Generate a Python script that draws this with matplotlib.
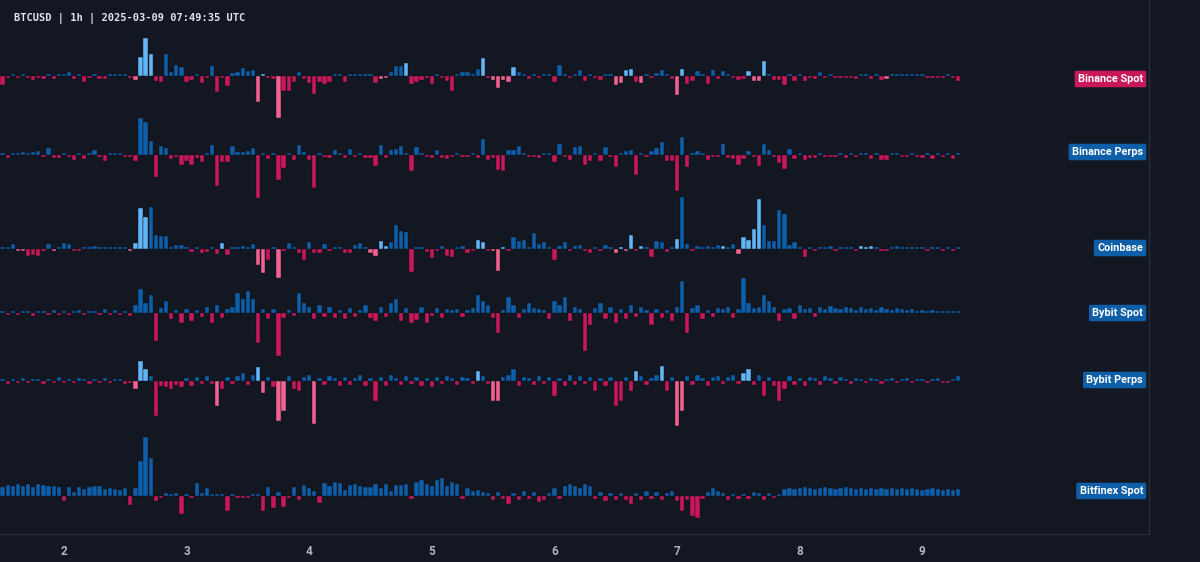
import matplotlib
matplotlib.use("Agg")
import matplotlib.pyplot as plt
import numpy as np

# hourly delta bars, Mar 1 12:00 -> Mar 9 07:00
binance_spot = [
    -9, -1, 2, -2, 1, -2, -4, -1, -3, 2,
    -3, 1, 2, 4, -3, 1, -6, -1, 2, -3,
    -3, 2, 2, 2, 1, -1, -4, 19, 38, 22,
    -5, -6, 22, 4, 11, 9, -6, -4, 2, -7,
    -1, 10, -16, -1, -10, 3, 4, 8, 5, 6,
    -26, 1, -1, -3, -42, -15, -15, -6, 4, -3,
    -7, -18, -6, -8, -6, 2, 1, -6, 2, 1,
    1, 1, 1, -7, -3, -2, 4, 10, 10, 13,
    -8, -6, -4, -1, -8, 1, -1, -5, -15, 1,
    4, 4, 1, 7, 18, -1, -4, -12, -4, -6,
    9, 4, 2, -3, 2, -1, 1, 2, -6, 11,
    1, -1, 1, 6, -5, 2, -1, -4, 2, 2,
    -9, -7, 6, 7, -6, -7, 1, -1, 3, 6,
    2, -3, -19, 7, -8, -5, 5, 1, -8, 6,
    -3, 5, 1, -1, -4, -3, 5, -5, -5, 15,
    2, -4, -4, -9, 1, -5, 1, -5, -1, -3,
    4, -1, 2, -1, -2, -2, -1, -3, 1, 2,
    -3, 2, -4, -3, 1, 1, 1, 1, 1, 1,
    2, -1, -1, -1, -1, 1, -2, -5,
]
binance_perps = [
    1, -3, 1, 1, 3, 2, 3, 4, -1, 7,
    -3, -3, 2, -1, -5, 2, -4, 1, 5, -1,
    -6, 1, 1, 2, -2, -1, -6, 37, 33, 14,
    -22, 9, 7, -4, -1, -10, -6, -10, -3, -7,
    1, 10, -31, -7, -7, 9, 3, 3, 4, 7,
    -43, 1, -4, 1, -25, -13, 1, -5, 10, 3,
    -5, -33, 1, -2, -3, 5, 1, -3, 6, -2,
    1, -3, -3, -11, 10, -3, 5, 6, 9, 2,
    -16, 8, 1, -2, -3, 5, -3, -4, -1, 1,
    -2, -1, 1, -3, 16, -5, -3, -15, -16, 5,
    5, 9, 1, -1, -2, -3, 1, 2, -7, 11,
    -1, -5, 8, 9, -10, -6, 1, -6, 8, -2,
    -12, 2, 4, 5, -20, 1, -2, 4, 7, 13,
    -6, -6, -36, 18, -12, 1, 4, 2, -5, -2,
    -2, 11, -3, -4, -10, -4, 4, -2, -11, 11,
    5, -1, -8, -14, 6, -4, 1, -5, -3, -3,
    2, -1, -1, -2, 1, -3, 1, -1, 1, 2,
    -4, 1, -5, -5, 1, 1, -1, -2, 1, -1,
    -3, 1, -4, 1, -1, 1, -4, 2,
]
coinbase = [
    2, 2, 5, -2, -1, -7, -6, -7, -2, 5,
    -2, 2, 6, 5, -1, -1, 1, 1, 3, 2,
    1, 2, 2, 1, 1, -1, 6, 41, 32, 42,
    14, 13, 13, 1, 4, 4, 1, -3, 2, -4,
    -3, 2, -5, 6, -6, 1, 1, 3, 1, 5,
    -16, -24, -11, 2, -29, -2, 6, 1, -4, -11,
    7, -4, -4, 5, -1, 2, 2, -4, -4, 4,
    6, 2, -4, -7, 8, 3, 7, 24, 18, 17,
    -23, 1, 1, -3, -9, -2, 3, -7, -8, 1,
    3, -4, -1, 9, 7, -2, -1, -22, 2, -2,
    12, 8, 9, 2, 16, 5, 7, 1, -11, 3,
    7, -1, 3, 4, -1, -4, 2, -1, 4, 1,
    -4, 2, -1, 14, -1, 3, 1, -8, 8, 7,
    -3, 2, 10, 52, 5, -1, 3, 1, 3, 1,
    4, 3, 1, 5, -5, 12, 9, 20, 50, 24,
    8, 8, 39, 35, 4, 7, 1, -8, 2, -1,
    2, 2, 3, -1, 2, 2, 2, -1, 3, 2,
    3, 1, -1, -1, 1, 3, 2, 2, 1, 1,
    1, -1, 1, 2, -1, 1, -1, 1,
]
bybit_spot = [
    1, -2, 2, -1, 2, 1, -3, 2, 1, -2,
    3, -1, 2, -2, 1, 3, -2, 1, 2, -1,
    4, -2, 3, -1, 2, -3, 8, 24, 10, 18,
    -28, 5, 12, -6, 3, -10, 4, -8, 3, -4,
    6, -10, 8, -5, 4, 6, 20, 14, 22, 14,
    -30, 4, -6, 4, -43, -5, 3, -3, 20, 10,
    6, -6, 8, -4, 6, -5, 3, -6, 5, -4,
    3, 8, -5, -8, 6, -4, 10, 14, -8, 5,
    -10, -7, 6, -10, -3, 5, -5, 4, 3, 4,
    -4, 3, 5, 18, 12, 8, -5, -20, 3, 16,
    8, -5, 4, 10, 5, 4, 3, -6, 12, 8,
    16, -8, 6, 4, -38, -12, 5, 10, -6, 6,
    -10, 4, -6, 8, -4, 6, 3, -12, 4, -5,
    3, -8, 6, 32, -20, 5, 8, -6, 3, -4,
    5, 4, 6, -5, 4, 35, 10, 5, 6, 18,
    12, 6, -8, 4, 5, -6, 8, 4, 5, -4,
    6, 4, 7, 5, 4, 6, 5, 3, 6, 4,
    5, 3, 6, 4, 3, 5, 4, 3, 4, 2,
    3, 2, 3, 2, 2, 1, 2, 1,
]
bybit_perps = [
    2, -3, 1, -2, 3, -1, 2, 1, -3, 2,
    -2, 4, -1, 2, -2, 3, 1, -3, 2, -1,
    3, -2, 1, 2, -3, -2, -8, 20, 12, 5,
    -35, -5, -6, -8, -4, -6, 3, -5, 4, -3,
    5, -3, -25, -8, 4, -3, 5, 8, -4, 6,
    14, -12, 4, -6, -40, -30, 5, -8, -10, 4,
    6, -43, 3, -4, 5, 3, -5, 4, -4, 3,
    6, -5, 3, -20, 4, -5, 6, 3, -4, 5,
    -3, 4, -5, 3, -6, 4, -3, 5, 3, -4,
    4, 3, -3, 10, 5, -3, -20, -20, 4, 6,
    12, -5, 4, 3, -4, 5, -3, 4, -15, 3,
    -5, 6, -4, 5, -3, 4, -10, 3, -5, 4,
    -25, -20, 4, -10, 10, 5, -4, 3, 6, 15,
    -10, 4, -45, -30, 5, -4, 6, 3, -5, 4,
    5, -3, 4, 6, -3, 8, 12, -4, 6, -15,
    4, -5, -20, -8, 5, -4, 3, -5, 4, 3,
    -4, 5, 3, -3, 4, 2, -3, 3, 2, -2,
    3, 2, -3, 2, 3, -2, 2, 3, -2, 2,
    1, -2, 2, 3, -2, -2, 2, 5,
]
bitfinex_spot = [
    9, 11, 10, 12, 10, 12, 9, 12, 11, 10,
    10, 9, -5, 9, 4, 9, 7, 9, 10, 10,
    7, 8, 7, 6, 8, -9, 8, 35, 59, 38,
    -5, -1, 3, 2, 3, -18, 1, -1, 13, 3,
    8, 1, 1, 1, -15, 1, -1, -1, -1, 1,
    1, -15, 9, -12, 4, -11, -1, 9, -4, 11,
    8, 5, -7, 13, 10, 14, 13, 6, 11, 12,
    10, 9, 9, 12, 8, 12, 5, 11, 11, 12,
    -3, 14, 16, 12, 10, 16, 18, 10, 14, 12,
    -3, 8, 5, 6, 4, 3, -4, 4, -3, -8,
    3, -4, 5, -3, 4, -6, -4, 3, 8, -3,
    10, 12, 10, 8, 12, 10, -3, 4, -5, 3,
    -4, 3, -4, -8, 3, -4, 5, -3, 4, -4,
    3, 5, -5, -15, -4, -20, -22, -3, 4, 8,
    5, 3, -4, 2, -3, 2, -3, 4, 3, -4,
    3, -2, 2, 7, 8, 7, 8, 9, 8, 7,
    8, 9, 8, 7, 8, 9, 8, 7, 8, 7,
    8, 7, 8, 7, 8, 7, 8, 7, 8, 7,
    6, 7, 8, 7, 6, 7, 6, 7,
]

# bars drawn in the lighter shade
binance_spot_bright = [26, 27, 28, 29, 50, 51, 54, 74, 75, 79, 94, 96, 97, 98, 99,
                       100, 120, 121, 122, 123, 125, 132, 133, 146, 147, 148, 149, 173]
binance_perps_bright = []
coinbase_bright = [3, 4, 10, 25, 26, 27, 28, 43, 50, 51, 54, 72, 73, 74, 75, 93, 94, 96,
                   97, 98, 120, 121, 122, 123, 125, 132, 141, 144, 145, 146, 147, 148,
                   168, 169, 170]
bybit_spot_bright = []
bybit_perps_bright = [26, 27, 28, 42, 50, 51, 54, 55, 61, 93, 96, 97, 124, 129, 132,
                      133, 145, 146]
bitfinex_spot_bright = []

names = ["Binance Spot", "Binance Perps", "Coinbase", "Bybit Spot", "Bybit Perps", "Bitfinex Spot"]
series = [binance_spot, binance_perps, coinbase, bybit_spot, bybit_perps, bitfinex_spot]
brights = [binance_spot_bright, binance_perps_bright, coinbase_bright,
           bybit_spot_bright, bybit_perps_bright, bitfinex_spot_bright]
day_labels = ["2", "3", "4", "5", "6", "7", "8", "9"]

# layout (pixel rows of the 1200x562 canvas)
row_base = [75.5, 154.5, 248.5, 313, 381, 496]
label_y = [79, 152, 248, 313, 380, 491]

BG = "#131722"
UP, UP_HI = "#0f5ea8", "#64b5f6"
DN, DN_HI = "#c8185a", "#f06292"

fig = plt.figure(figsize=(12, 5.62), dpi=100, facecolor=BG)
ax = fig.add_axes([0, 28 / 562, 1149 / 1200, 534 / 562])
ax.set_facecolor(BG)

for vals, hi, base in zip(series, brights, row_base):
    v = np.array(vals, dtype=float)
    x = np.arange(len(v))
    cols = []
    for i, val in enumerate(v):
        if val >= 0:
            cols.append(UP_HI if i in hi else UP)
        else:
            cols.append(DN_HI if i in hi else DN)
    # keep tiny bars visible as a short stub
    h = np.sign(v) * np.maximum(np.abs(v), 2.0)
    ax.bar(x, -h, bottom=base, width=0.84, color=cols, edgecolor="#0b0e15", linewidth=0.3)

ax.set_xlim(-0.5, -0.5 + 1149 / 5.11)
ax.set_ylim(534, 0)
ax.set_yticks([])
ax.set_xticks([12 + 24 * i for i in range(len(day_labels))])
ax.set_xticklabels(day_labels, family="Roboto", fontsize=8.5, fontweight="bold", color="#b2b5be")
ax.tick_params(axis="x", length=0, pad=8)
for s in ["top", "left"]:
    ax.spines[s].set_visible(False)
for s in ["right", "bottom"]:
    ax.spines[s].set_color("#2a2e39")
    ax.spines[s].set_linewidth(1)

for name, vals, y in zip(names, series, label_y):
    c = UP if vals[-1] >= 0 else DN
    fig.text((1147 - 4) / 1200, 1 - y / 562, name, ha="right", va="center",
             family="Roboto", fontsize=7.8, fontweight="bold", color="#ffffff",
             bbox=dict(boxstyle="round,pad=0.3,rounding_size=0.15", fc=c, ec="none"))

fig.text(14 / 1200, 1 - 19 / 562, "BTCUSD | 1h | 2025-03-09 07:49:35 UTC",
         ha="left", va="center", family="DejaVu Sans Mono", fontsize=7.5,
         fontweight="bold", color="#e0e3eb")

fig.savefig("out.png", dpi=100, facecolor=BG)
